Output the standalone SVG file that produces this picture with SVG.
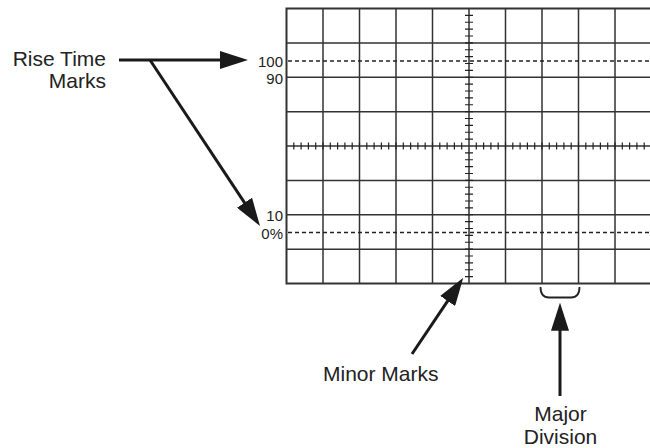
<svg xmlns="http://www.w3.org/2000/svg" width="650" height="448" viewBox="0 0 650 448">
<style>
.grid{fill:none;stroke:#333;stroke-width:1.5}
.border{fill:none;stroke:#333;stroke-width:2}
.dash{fill:none;stroke:#222;stroke-width:1.6;stroke-dasharray:4 3}
.tick{fill:none;stroke:#222;stroke-width:1.2}
.conn{fill:none;stroke:#1a1a1a;stroke-width:3}
.brace{fill:none;stroke:#222;stroke-width:1.8}
.lbl{font-family:"Liberation Sans",Arial,sans-serif;font-size:21px;fill:#222}
.num{font-family:"Liberation Sans",Arial,sans-serif;font-size:15px;fill:#222;text-anchor:end}
</style>
<defs>
<marker id="ah" markerUnits="userSpaceOnUse" markerWidth="28" markerHeight="18" refX="8" refY="9" orient="auto">
<path d="M0,0 L28,9 L0,18 z" fill="#1a1a1a"/>
</marker>
</defs>
<g id="graticule">
<rect class="border" x="286.5" y="8.5" width="365" height="275"/>
<path class="grid" d="M323 8.5V283.5M359.5 8.5V283.5M396 8.5V283.5M432.5 8.5V283.5M469 8.5V283.5M505.5 8.5V283.5M542 8.5V283.5M578.5 8.5V283.5M615 8.5V283.5M286.5 42.875H651.5M286.5 77.25H651.5M286.5 111.625H651.5M286.5 146H651.5M286.5 180.375H651.5M286.5 214.75H651.5M286.5 249.125H651.5"/>
<path class="dash" d="M288 61H650M288 232.5H650"/>
<path class="tick" d="M293.8 142.5v7M301.1 142.5v7M308.4 142.5v7M315.7 142.5v7M323 142.5v7M330.3 142.5v7M337.6 142.5v7M344.9 142.5v7M352.2 142.5v7M359.5 142.5v7M366.8 142.5v7M374.1 142.5v7M381.4 142.5v7M388.7 142.5v7M396 142.5v7M403.3 142.5v7M410.6 142.5v7M417.9 142.5v7M425.2 142.5v7M432.5 142.5v7M439.8 142.5v7M447.1 142.5v7M454.4 142.5v7M461.7 142.5v7M476.3 142.5v7M483.6 142.5v7M490.9 142.5v7M498.2 142.5v7M505.5 142.5v7M512.8 142.5v7M520.1 142.5v7M527.4 142.5v7M534.7 142.5v7M542 142.5v7M549.3 142.5v7M556.6 142.5v7M563.9 142.5v7M571.2 142.5v7M578.5 142.5v7M585.8 142.5v7M593.1 142.5v7M600.4 142.5v7M607.7 142.5v7M615 142.5v7M622.3 142.5v7M629.6 142.5v7M636.9 142.5v7M644.2 142.5v7"/>
<path class="tick" d="M465 15.375h8M465 22.25h8M465 29.125h8M465 36h8M465 42.875h8M465 49.75h8M465 56.625h8M465 63.5h8M465 70.375h8M465 77.25h8M465 84.125h8M465 91h8M465 97.875h8M465 104.75h8M465 111.625h8M465 118.5h8M465 125.375h8M465 132.25h8M465 139.125h8M465 152.875h8M465 159.75h8M465 166.625h8M465 173.5h8M465 180.375h8M465 187.25h8M465 194.125h8M465 201h8M465 207.875h8M465 214.75h8M465 221.625h8M465 228.5h8M465 235.375h8M465 242.25h8M465 249.125h8M465 256h8M465 262.875h8M465 269.75h8M465 276.625h8"/>
<text class="num" x="283" y="66.5">100</text>
<text class="num" x="283" y="83.5">90</text>
<text class="num" x="283" y="221">10</text>
<text class="num" x="283" y="238.5">0%</text>
<path class="brace" d="M540.5 287 C540.5 294 543 297.5 549 297.5 L571 297.5 C577 297.5 579.5 294 579.5 287"/>
</g>
<g id="rise-time-marks">
<text class="lbl" x="106" y="65.5" text-anchor="end">Rise Time</text>
<text class="lbl" x="106" y="88" text-anchor="end">Marks</text>
</g>
<g id="minor-marks">
<text class="lbl" x="323" y="381">Minor Marks</text>
</g>
<g id="major-division">
<text class="lbl" x="560.5" y="421" text-anchor="middle">Major</text>
<text class="lbl" x="560.5" y="443.5" text-anchor="middle">Division</text>
</g>
<g id="connectors">
<line class="conn" x1="119" y1="60" x2="228" y2="60" marker-end="url(#ah)"/>
<line class="conn" x1="150" y1="60" x2="248.95" y2="209.33" marker-end="url(#ah)"/>
<line class="conn" x1="412" y1="354" x2="452.1" y2="294.3" marker-end="url(#ah)"/>
<line class="conn" x1="560" y1="396" x2="560" y2="322.7" marker-end="url(#ah)"/>
</g>
</svg>
